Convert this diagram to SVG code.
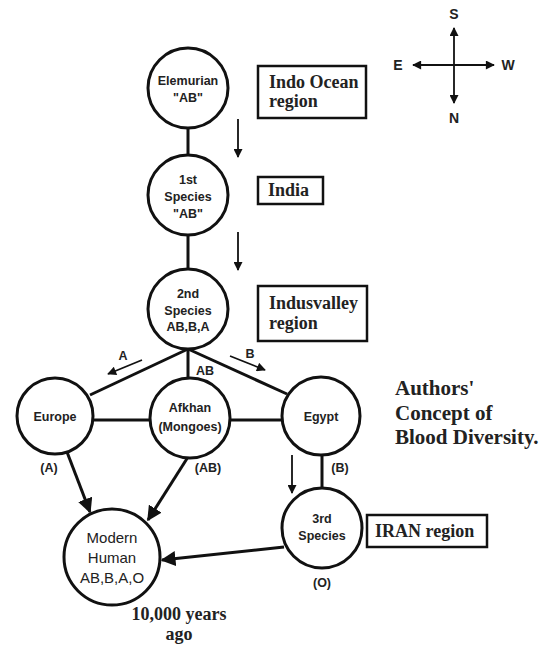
<svg xmlns="http://www.w3.org/2000/svg" width="552" height="645" viewBox="0 0 552 645">
<defs>
<style>
.node{fill:#fff;stroke:#111;stroke-width:3}
.con{stroke:#111;stroke-width:3;fill:none}
.thin{stroke:#111;stroke-width:1.8;fill:none}
.box{fill:#fff;stroke:#111;stroke-width:2.5}
.nt{font-family:"Liberation Sans",Arial,sans-serif;font-weight:bold;font-size:12.5px;fill:#222;text-anchor:middle}
.mt{font-family:"Liberation Sans",Arial,sans-serif;font-size:15px;fill:#222;text-anchor:middle}
.bt{font-family:"Liberation Serif","Times New Roman",serif;font-weight:bold;font-size:18px;fill:#222}
.ct{font-family:"Liberation Sans",Arial,sans-serif;font-weight:bold;font-size:14px;fill:#222;text-anchor:middle}
</style>
<marker id="ah" viewBox="0 0 10 10" refX="9" refY="5" markerWidth="5" markerHeight="5" orient="auto" markerUnits="strokeWidth"><path d="M0,0 L10,5 L0,10 z" fill="#111"/></marker>
<marker id="ahs" viewBox="0 0 10 10" refX="9" refY="5" markerWidth="6" markerHeight="5" orient="auto" markerUnits="strokeWidth"><path d="M0,0 L10,5 L0,10 z" fill="#111"/></marker>
</defs>

<g id="connectors">
<line class="con" x1="188" y1="128" x2="188" y2="155"/>
<line class="con" x1="188" y1="235" x2="188" y2="269"/>
<line class="con" x1="188" y1="349" x2="90" y2="395"/>
<line class="con" x1="188" y1="349" x2="188" y2="378"/>
<line class="con" x1="188" y1="349" x2="287" y2="394"/>
<line class="con" x1="92" y1="420" x2="150" y2="420"/>
<line class="con" x1="230" y1="420" x2="283" y2="420"/>
<line class="con" x1="322" y1="455" x2="322" y2="488"/>
<line class="con" x1="67" y1="452" x2="90" y2="512" marker-end="url(#ah)"/>
<line class="con" x1="188" y1="457" x2="148" y2="520" marker-end="url(#ah)"/>
<line class="con" x1="284" y1="547" x2="162" y2="560" marker-end="url(#ah)"/>
<line class="thin" x1="238" y1="119" x2="238" y2="157" marker-end="url(#ahs)"/>
<line class="thin" x1="238" y1="232" x2="238" y2="270" marker-end="url(#ahs)"/>
<line class="thin" x1="142" y1="360" x2="108" y2="374" marker-end="url(#ahs)"/>
<line class="thin" x1="230" y1="356" x2="265" y2="370" marker-end="url(#ahs)"/>
<line class="thin" x1="292" y1="455" x2="292" y2="493" marker-end="url(#ahs)"/>
</g>

<g id="compass">
<line class="thin" x1="454" y1="65" x2="454" y2="28" marker-end="url(#ahs)"/>
<line class="thin" x1="454" y1="65" x2="454" y2="103" marker-end="url(#ahs)"/>
<line class="thin" x1="454" y1="65" x2="413" y2="65" marker-end="url(#ahs)"/>
<line class="thin" x1="454" y1="65" x2="494" y2="65" marker-end="url(#ahs)"/>
<text class="ct" x="454" y="19">S</text>
<text class="ct" x="454" y="123">N</text>
<text class="ct" x="398" y="70">E</text>
<text class="ct" x="508" y="70">W</text>
</g>

<g id="elemurian">
<circle class="node" cx="188" cy="88" r="40"/>
<text class="nt" x="188" y="85">Elemurian</text>
<text class="nt" x="188" y="102">"AB"</text>
</g>
<g id="species1">
<circle class="node" cx="188" cy="195" r="40"/>
<text class="nt" x="188" y="184">1st</text>
<text class="nt" x="188" y="201">Species</text>
<text class="nt" x="188" y="218">"AB"</text>
</g>
<g id="species2">
<circle class="node" cx="188" cy="309" r="40"/>
<text class="nt" x="188" y="298">2nd</text>
<text class="nt" x="188" y="315">Species</text>
<text class="nt" x="188" y="331">AB,B,A</text>
</g>
<g id="europe">
<circle class="node" cx="55" cy="416" r="38"/>
<text class="nt" x="55" y="421">Europe</text>
</g>
<g id="afkhan">
<circle class="node" cx="190" cy="418" r="40"/>
<text class="nt" x="190" y="412">Afkhan</text>
<text class="nt" x="190" y="431">(Mongoes)</text>
</g>
<g id="egypt">
<circle class="node" cx="321" cy="416" r="39"/>
<text class="nt" x="321" y="421">Egypt</text>
</g>
<g id="species3">
<circle class="node" cx="322" cy="528" r="40"/>
<text class="nt" x="322" y="523">3rd</text>
<text class="nt" x="322" y="540">Species</text>
</g>
<g id="modern">
<circle class="node" cx="112" cy="557" r="48"/>
<text class="mt" x="112" y="543">Modern</text>
<text class="mt" x="112" y="563">Human</text>
<text class="mt" x="112" y="583">AB,B,A,O</text>
</g>

<g id="labels">
<text class="nt" x="123" y="360">A</text>
<text class="nt" x="250" y="358">B</text>
<text class="nt" x="205" y="375">AB</text>
<text class="nt" x="49" y="472">(A)</text>
<text class="nt" x="208" y="472">(AB)</text>
<text class="nt" x="340" y="472">(B)</text>
<text class="nt" x="322" y="587">(O)</text>
</g>

<g id="indo-box">
<rect class="box" x="258" y="66" width="108" height="52"/>
<text class="bt" x="269" y="88">Indo Ocean</text>
<text class="bt" x="269" y="107">region</text>
</g>
<g id="india-box">
<rect class="box" x="258" y="177" width="65" height="27"/>
<text class="bt" x="268" y="196">India</text>
</g>
<g id="indus-box">
<rect class="box" x="258" y="286" width="109" height="55"/>
<text class="bt" x="269" y="309">Indusvalley</text>
<text class="bt" x="269" y="329">region</text>
</g>
<g id="iran-box">
<rect class="box" x="367" y="515" width="120" height="32"/>
<text class="bt" x="375" y="537">IRAN region</text>
</g>

<g id="notes">
<text class="bt" x="395" y="395" style="font-size:21px">Authors'</text>
<text class="bt" x="395" y="420" style="font-size:21px">Concept of</text>
<text class="bt" x="395" y="444" style="font-size:21px">Blood Diversity.</text>
<text class="bt" x="179" y="620" text-anchor="middle">10,000 years</text>
<text class="bt" x="179" y="640" text-anchor="middle">ago</text>
</g>
</svg>
